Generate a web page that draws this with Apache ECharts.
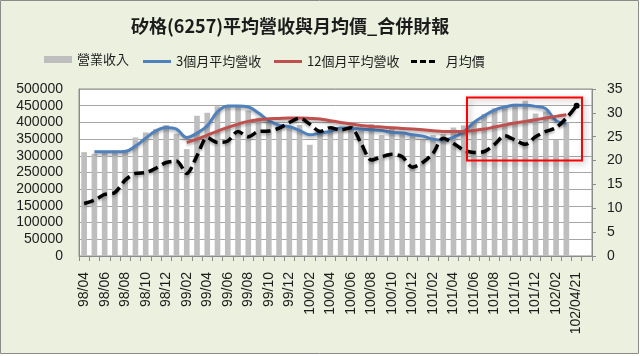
<!DOCTYPE html>
<html><head><meta charset="utf-8">
<script src="https://cdn.jsdelivr.net/npm/echarts@6/dist/echarts.min.js"></script>
<style>html,body{margin:0;padding:0;background:#fff}#c{width:640px;height:356px}</style>
</head><body><div id="c"></div>
<script>
const categories = ['98/04','98/05','98/06','98/07','98/08','98/09','98/10','98/11','98/12','99/01','99/02','99/03','99/04','99/05','99/06','99/07','99/08','99/09','99/10','99/11','99/12','100/01','100/02','100/03','100/04','100/05','100/06','100/07','100/08','100/09','100/10','100/11','100/12','101/01','101/02','101/03','101/04','101/05','101/06','101/07','101/08','101/09','101/10','101/11','101/12','102/01','102/02','102/03','102/04/21',''];
const revenue = [311000,306000,310000,316000,318000,355000,370000,380000,392000,366000,320000,420000,429000,448000,452000,448000,436000,414000,398000,393000,383000,392000,333000,375000,378000,385000,390000,380000,395000,362000,380000,371000,365000,347000,362000,365000,385000,391000,403000,425000,442000,449000,456000,465000,427000,433000,347000,400000,null,null];
const avg3 = [null,312000,312000,312000,313000,329000,353000,375000,385000,380000,355000,368000,390000,432000,449000,449000,446000,428000,405000,392000,387000,376000,363000,368000,373000,383000,382000,380000,378000,376000,370000,368000,363000,359000,350000,347000,356000,372000,400000,420000,437000,446000,451000,451000,448000,441000,405000,398000,null,null];
const avg12 = [null,null,null,null,null,null,null,null,null,null,340000,350000,362000,374000,385000,395000,403000,408000,411000,412000,413000,413000,412000,410000,405000,400000,395000,391000,388000,386000,384000,382000,380000,378000,375000,373000,373000,373000,376000,380000,386000,392000,398000,403000,408000,413000,418000,423000,null,null];
const price = [11.0,11.7,12.9,13.3,15.9,17.3,17.5,18.4,19.6,19.9,17.3,21.0,24.8,23.8,24.1,26.1,25.0,26.1,26.2,26.8,28.0,28.9,27.6,26.1,26.9,26.4,26.9,23.6,20.1,20.8,21.3,20.8,18.6,19.6,21.5,24.7,23.6,22.2,21.7,21.9,23.4,25.2,24.3,23.4,25.0,26.1,26.9,28.9,31.5,null];
const leftTicks = {min:0,max:500000,interval:50000};
const rightTicks = {min:0,max:35,interval:5};
const names = ['營業收入','3個月平均營收','12個月平均營收','月均價'];

const priceData = price.map((v,i)=> i===48 ? {value:v,symbol:'circle',symbolSize:6,itemStyle:{color:'#000'}} : v);
const lblFont = {fontFamily:'Liberation Sans',fontSize:14,color:'#1c1c1c'};
const cjk = '"Noto Sans CJK TC","Noto Sans CJK SC",sans-serif';
function lg(name,left,opts){return Object.assign({data:[name],left:left,top:53,padding:0,itemWidth:28,itemHeight:3,itemGap:5,textStyle:{fontFamily:cjk,fontSize:13,color:'#1c1c1c'},selectedMode:false},opts||{});}
const chart = echarts.init(document.getElementById('c'),null,{renderer:'canvas'});
chart.setOption({
  backgroundColor:'#fff',
  animation:false,
  graphic:[
    {type:'rect',z:-10,silent:true,shape:{x:0.5,y:0.5,width:638,height:353},style:{fill:'#EBF1DE',stroke:'#8a8a8a',lineWidth:1}},
    {type:'rect',z:100,silent:true,shape:{x:467,y:97.5,width:115,height:63},style:{fill:'rgba(0,0,0,0)',stroke:'#FF0000',lineWidth:2,shadowBlur:6,shadowOffsetX:2,shadowOffsetY:2,shadowColor:'rgba(0,0,0,0.35)'}}
  ],
  title:{text:'矽格(6257)平均營收與月均價_合併財報',left:126,top:12,textStyle:{fontFamily:cjk,fontSize:18,fontWeight:'bold',color:'#1c1c1c'}},
  legend:[
    lg(names[0],44,{itemHeight:7,icon:'rect',itemStyle:{color:'#BEBEBE'},top:53}),
    lg(names[1],143,{icon:'rect',itemStyle:{color:'#4F81BD'},top:55}),
    lg(names[2],274,{icon:'rect',itemStyle:{color:'#C0504D'},top:55}),
    lg(names[3],411,{itemWidth:24,icon:'path://M0,0h6v3h-6z M9,0h6v3h-6z M18,0h6v3h-6z',itemStyle:{color:'#000'},formatter:'  {name}',top:55})
  ],
  grid:{left:79,right:48,top:89,bottom:100,show:true,backgroundColor:'#fff',borderColor:'#8c8c8c',borderWidth:1},
  xAxis:{type:'category',data:categories,boundaryGap:true,
    axisLine:{lineStyle:{color:'#8c8c8c'}},
    axisTick:{show:true,interval:0,length:5,lineStyle:{color:'#8c8c8c'}},
    axisLabel:Object.assign({interval:1,rotate:90,margin:16},lblFont)},
  yAxis:[
    {type:'value',min:leftTicks.min,max:leftTicks.max,interval:leftTicks.interval,
      axisLine:{show:true,lineStyle:{color:'#8c8c8c'}},axisTick:{show:false},
      splitLine:{lineStyle:{color:'#a6a6a6'}},axisLabel:Object.assign({margin:16,formatter:v=>String(v)},lblFont)},
    {type:'value',min:rightTicks.min,max:rightTicks.max,interval:rightTicks.interval,position:'right',
      axisLine:{show:true,lineStyle:{color:'#8c8c8c'}},axisTick:{show:true,length:4,lineStyle:{color:'#8c8c8c'}},
      splitLine:{show:false},axisLabel:Object.assign({margin:15},lblFont)}
  ],
  series:[
    {name:names[0],type:'bar',data:revenue,barWidth:'55%',itemStyle:{color:'#BEBEBE'},yAxisIndex:0},
    {name:names[1],type:'line',data:avg3,smooth:0.4,symbol:'none',yAxisIndex:0,itemStyle:{color:'#4F81BD'},
      lineStyle:{color:'#4F81BD',width:3,shadowBlur:3,shadowColor:'rgba(0,0,0,0.3)',shadowOffsetY:2}},
    {name:names[2],type:'line',data:avg12,smooth:0.4,symbol:'none',yAxisIndex:0,itemStyle:{color:'#C0504D'},
      lineStyle:{color:'#C0504D',width:3,shadowBlur:3,shadowColor:'rgba(0,0,0,0.3)',shadowOffsetY:2}},
    {name:names[3],type:'line',data:priceData,smooth:0.3,symbol:'none',yAxisIndex:1,itemStyle:{color:'#000'},
      lineStyle:{color:'#000',width:3.5,type:[10,5],shadowBlur:3,shadowColor:'rgba(0,0,0,0.3)',shadowOffsetY:2}}
  ]
});
</script></body></html>
